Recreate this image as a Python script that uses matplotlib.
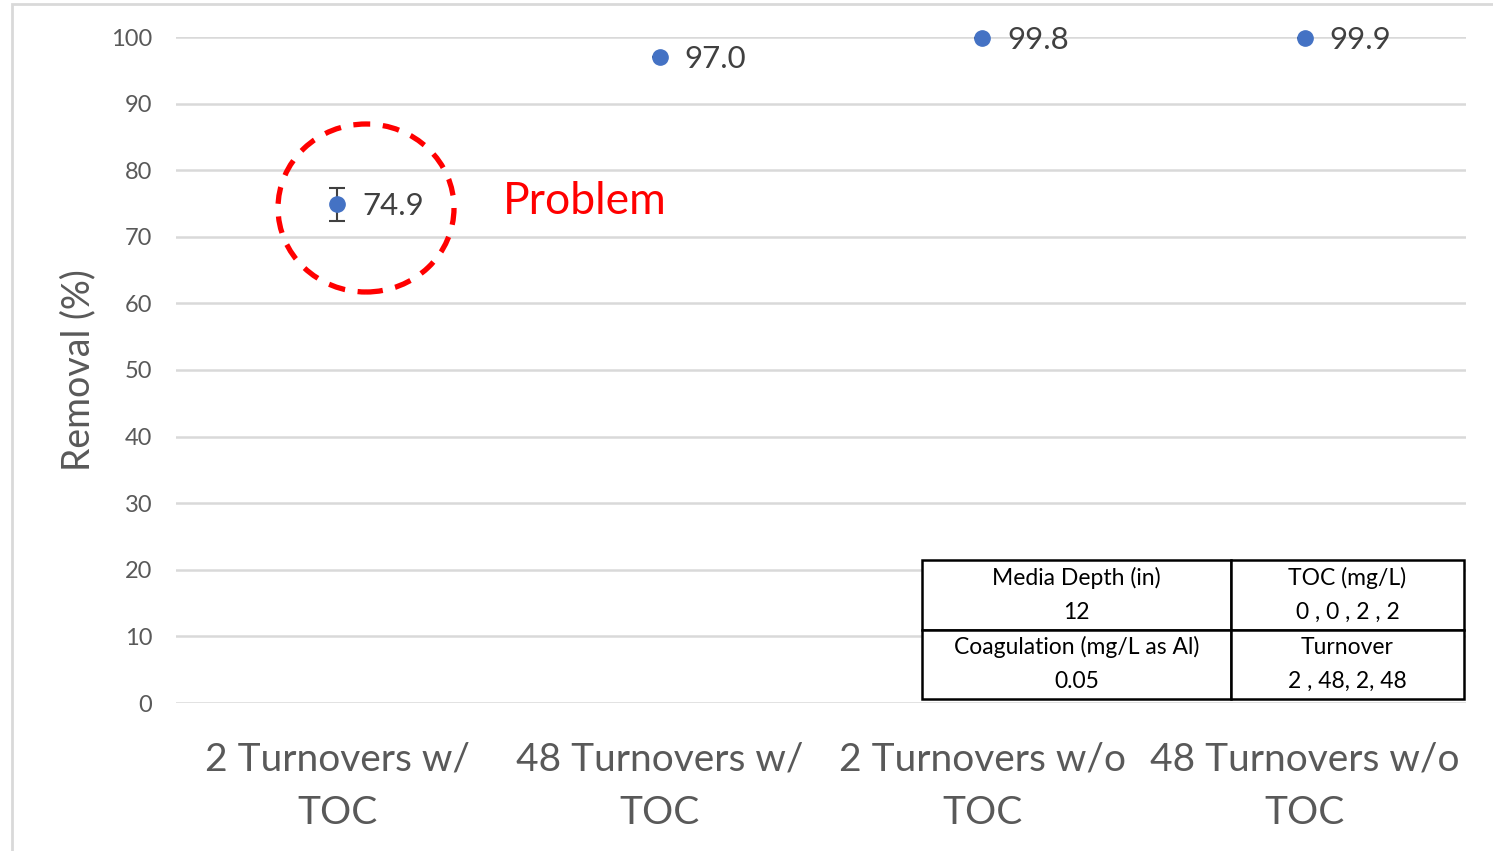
import matplotlib
matplotlib.use("Agg")
import matplotlib.pyplot as plt
from matplotlib.patches import Ellipse, Rectangle

plt.rcParams['font.family'] = ['Lato', 'DejaVu Sans']

# data
categories = ["2 Turnovers w/\nTOC", "48 Turnovers w/\nTOC", "2 Turnovers w/o\nTOC", "48 Turnovers w/o\nTOC"]
removal = [74.9, 97.0, 99.8, 99.9]
removal_err = [2.5, 0, 0, 0]
yticks = [0, 10, 20, 30, 40, 50, 60, 70, 80, 90, 100]

table_text = [["Media Depth (in)\n12", "TOC (mg/L)\n0 , 0 , 2 , 2"],
              ["Coagulation (mg/L as Al)\n0.05", "Turnover\n2 , 48, 2, 48"]]

fig = plt.figure(figsize=(14.93, 8.51), dpi=100)
ax = fig.add_axes([176/1493, 1 - 703/851, 1290/1493, 666/851])

x = [i + 0.5 for i in range(len(categories))]
eb = ax.errorbar(x, removal, yerr=removal_err, fmt="o", color="#4472C4", ms=11,
                 ecolor="#404040", elinewidth=1.5, capsize=6, capthick=1.5, zorder=3)
for art in eb.lines[0:1]:
    art.set_clip_on(False)
for xi, v in zip(x, removal):
    ax.annotate(f"{v:.1f}", (xi, v), xytext=(18, -1.5), textcoords="offset points",
                ha="left", va="center", fontsize=22.5, color="#404040")

ax.set_xlim(0, 4)
ax.set_ylim(0, 100)
ax.set_yticks(yticks)
ax.set_xticks(x)
ax.set_xticklabels(categories, fontsize=28, color="#595959", linespacing=1.6)
ax.tick_params(axis="y", length=0, pad=17, labelsize=17, labelcolor="#595959")
ax.tick_params(axis="x", length=0, pad=28)
ax.grid(axis="y", color="#D9D9D9", linewidth=1.8)
ax.set_axisbelow(True)
for s in ax.spines.values():
    s.set_visible(False)
ax.set_ylabel("Removal (%)", fontsize=27, color="#595959", labelpad=11)

# problem marker
circ = Ellipse((366, 851 - 208), 176, 168, transform=None, fill=False,
               edgecolor="red", linewidth=3.8, linestyle=(0, (3.2, 2.4)), zorder=4)
fig.patches.append(circ)
fig.text(503/1493, 1 - 201/851, "Problem", color="red", fontsize=32, va="center", ha="left")

# parameter table
tb = ax.table(cellText=table_text, cellLoc="center", colWidths=[309/542, 233/542],
              bbox=[(922 - 176)/1290, (703 - 699)/666, (1464 - 922)/1290, (699 - 560)/666])
tb.auto_set_font_size(False)
for (r, c), cell in tb.get_celld().items():
    cell.set_linewidth(1.8)
    cell.set_edgecolor("black")
    cell.set_facecolor("white")
    cell.get_text().set_fontsize(16.5)
    cell.get_text().set_linespacing(1.75)
tb.set_zorder(5)

# outer chart border (top and left visible)
fig.patches.append(Rectangle((12, -20), 1600, 851 - 4 + 20, transform=None, fill=False,
                             edgecolor="#D9D9D9", linewidth=2))

fig.savefig("out.png", dpi=100)
